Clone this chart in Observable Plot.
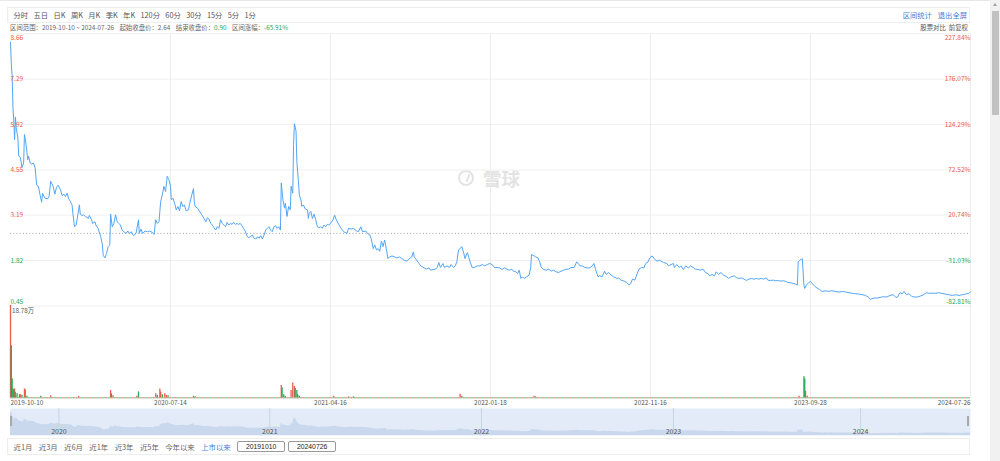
<!DOCTYPE html>
<html>
<head>
<meta charset="utf-8">
<script src="https://cdn.jsdelivr.net/npm/d3@7"></script>
<script src="https://cdn.jsdelivr.net/npm/@observablehq/plot@0.6"></script>
<style>
  html, body { margin: 0; padding: 0; }
  body { width: 1000px; height: 461px; overflow: hidden; background: #fff; position: relative;
         font-family: "Noto Sans CJK SC", "Noto Sans", sans-serif; }
  .abs { position: absolute; }
  #topline { left: 0; top: 0; width: 990px; height: 1px; background: #e8e8e8; }
  #toolbar { left: 7px; top: 7px; width: 963px; height: 16px; border: 1px solid #eeeeee; box-sizing: border-box;
             display: flex; align-items: center; font-size: 7.3px; color: #555; padding-left: 5.5px; gap: 5.4px; }
  #toolbar .right { margin-left: auto; display: flex; gap: 6px; padding-right: 2px; color: #3d7fd6; }
  #info { left: 10px; top: 23px; height: 9px; font-size: 6.4px; color: #666; display: flex; gap: 5.5px; align-items: center; white-space: pre; }
  #info .g { color: #1fa85a; }
  #inforight { right: 32px; top: 23px; height: 9px; font-size: 6.4px; color: #555; display: flex; gap: 3px; align-items: center; }
  #watermark { left: 458px; top: 165px; display: flex; align-items: center; gap: 9px; color: #e3e3e3; font-size: 18.5px; font-weight: 700; }
  #watermark .icon { width: 16px; height: 16px; border: 2.2px solid #e3e3e3; border-radius: 50%; box-sizing: border-box; position: relative; }
  #watermark .icon::after { content: ""; position: absolute; left: 3px; top: 1.5px; width: 4px; height: 8px; border-right: 2px solid #e3e3e3; transform: skewX(-20deg); }
  #bottombar { left: 7px; top: 438px; width: 963px; height: 17px; border: 1px solid #eeeeee; box-sizing: border-box;
               display: flex; align-items: center; font-size: 7.4px; color: #666; padding-left: 5.5px; gap: 6.4px; }
  #bottombar .blue { color: #3d7fd6; }
  #bottombar .box { border: 1px solid #999; border-radius: 2px; width: 48px; height: 11px; box-sizing: border-box;
                    display: flex; align-items: center; justify-content: center; color: #222; font-size: 6.8px; font-family: "Liberation Sans", Arial, sans-serif; }
  #scroll { left: 990px; top: 0; width: 10px; height: 461px; background: #f1f1f1; }
  #thumb { left: 992px; top: 11px; width: 7px; height: 104px; background: #c1c1c1; }
  #arrow { left: 993px; top: 3px; width: 0; height: 0; border-left: 2.5px solid transparent; border-right: 2.5px solid transparent; border-bottom: 3px solid #a3a3a3; }
  .handle { width: 2px; height: 10px; background: #a8a8a8; top: 416px; }
  svg { display: block; }
</style>
</head>
<body>
<div id="topline" class="abs"></div>
<div id="toolbar" class="abs">
  <span>分时</span><span>五日</span><span>日K</span><span>周K</span><span>月K</span><span>季K</span><span>年K</span>
  <span>120分</span><span>60分</span><span>30分</span><span>15分</span><span>5分</span><span>1分</span>
  <div class="right"><span>区间统计</span><span>退出全屏</span></div>
</div>
<div id="info" class="abs">
  <span>区间范围：2019-10-10 ~ 2024-07-26</span>
  <span>起始收盘价：2.64</span>
  <span>结束收盘价：<span class="g">0.90</span></span>
  <span>区间涨幅：<span class="g">-65.91%</span></span>
</div>
<div id="inforight" class="abs"><span>股票对比</span><span>前复权</span></div>

<div id="watermark" class="abs"><div class="icon"></div><span>雪球</span></div>

<div id="price" class="abs" style="left:0;top:30px"></div>
<div id="volume" class="abs" style="left:0;top:303px"></div>
<div id="nav" class="abs" style="left:0;top:408px"></div>
<div class="abs handle" style="left:10px"></div>
<div class="abs handle" style="left:967px"></div>

<div id="bottombar" class="abs">
  <span>近1月</span><span>近3月</span><span>近6月</span><span>近1年</span><span>近3年</span><span>近5年</span><span>今年以来</span>
  <span class="blue">上市以来</span>
  <div class="box">20191010</div><div class="box" style="margin-left:-3.4px">20240726</div>
</div>
<div id="scroll" class="abs"></div>
<div id="thumb" class="abs"></div>
<div id="arrow" class="abs"></div>

<script>
// ---------------- data ----------------
const basePrice = 2.64;
const priceTicks = [8.66, 7.29, 5.92, 4.55, 3.19, 1.82, 0.45];
const pctLabels = ["227.84%", "176.07%", "124.29%", "72.52%", "20.74%", "-31.03%", "-82.81%"];
const totalDays = 1170;
const xTickDays = [0, 195, 390, 585, 780, 975, 1170];
const xTickLabels = ["2019-10-10", "2020-07-14", "2021-04-16", "2022-01-18", "2022-11-16", "2023-09-28", "2024-07-26"];
const yearDays = [59, 316, 574, 808, 1036];
const yearLabels = ["2020", "2021", "2022", "2023", "2024"];
const volMax = 18.78;
const volMaxLabel = "18.78万";

// trading-day index, close price
const pricePoints = [
[0,8.40],[1,7.75],[2,7.39],[3,6.43],[4,6.03],[5,5.47],[6,6.15],[7,5.82],[9,5.52],[10,4.97],[12,4.93],[14,4.63],[16,4.76],[17,5.62],[19,5.32],[21,4.86],[22,4.97],[24,4.76],[26,4.73],[28,4.76],[30,4.61],[32,4.09],[34,4.06],[36,3.80],[38,3.58],[39,3.85],[42,3.70],[45,3.68],[47,3.75],[49,4.21],[52,4.06],[54,3.82],[56,4.02],[58,4.09],[61,3.95],[63,3.78],[65,3.82],[67,3.75],[69,3.85],[71,3.68],[73,3.60],[75,3.50],[76,3.25],[78,2.84],[80,2.89],[82,3.20],[84,3.50],[85,3.22],[87,3.18],[89,3.20],[91,3.15],[95,3.09],[96,3.18],[99,3.05],[100,2.94],[103,2.99],[104,2.89],[107,2.79],[108,2.69],[110,2.54],[112,2.29],[113,1.98],[115,1.90],[117,2.03],[119,2.24],[121,2.29],[122,3.22],[124,2.84],[126,2.94],[128,3.20],[130,2.99],[132,2.94],[134,2.89],[136,2.74],[138,2.69],[141,2.64],[143,2.71],[145,2.64],[147,2.69],[150,2.57],[153,2.64],[156,3.05],[157,2.64],[159,2.77],[161,2.64],[164,2.71],[167,2.69],[169,2.71],[173,2.67],[175,2.61],[177,3.05],[179,2.94],[181,2.99],[182,3.30],[183,3.60],[185,3.80],[187,4.06],[189,3.90],[191,4.36],[193,4.26],[195,4.06],
[196,3.65],[198,3.70],[200,3.55],[202,3.35],[204,3.45],[206,3.32],[208,3.60],[210,3.45],[212,3.50],[214,3.32],[217,3.35],[218,3.50],[221,3.80],[223,3.99],[224,3.60],[225,3.45],[228,3.40],[230,3.32],[233,3.20],[236,3.09],[238,2.99],[240,3.11],[242,3.07],[244,2.94],[246,2.89],[248,2.81],[250,2.74],[252,2.84],[254,2.79],[256,3.05],[258,2.94],[260,2.89],[262,2.84],[264,2.97],[266,2.89],[268,2.94],[270,2.91],[272,2.97],[274,2.91],[276,2.94],[278,2.91],[280,2.94],[282,2.87],[284,2.79],[286,2.71],[288,2.57],[290,2.51],[292,2.54],[295,2.59],[296,2.51],[299,2.47],[301,2.54],[303,2.49],[305,2.57],[307,2.47],[309,2.59],[311,2.74],[313,2.79],[315,2.84],[317,2.74],[319,2.69],[321,2.84],[323,2.87],[325,2.79],[327,2.84],[329,2.74],[330,4.16],[332,3.65],[334,3.40],[335,3.55],[337,3.15],[339,3.45],[341,3.35],[342,4.06],[344,3.85],[345,5.32],[346,5.95],[348,5.72],[349,4.81],[351,4.16],[352,3.80],[354,3.65],[355,3.45],[357,3.50],[359,3.38],[362,3.35],[363,3.09],[364,3.24],[366,3.30],[368,3.09],[370,3.22],[372,3.05],[374,2.84],[376,2.81],[378,2.84],[380,2.79],[382,2.89],[384,2.84],[386,2.91],[388,2.89],[390,2.94],
[393,3.05],[395,3.19],[397,3.05],[400,2.91],[403,2.79],[406,2.69],[410,2.64],[412,2.79],[415,2.77],[418,2.79],[422,2.71],[424,2.69],[427,2.84],[429,2.69],[433,2.71],[435,2.64],[438,2.59],[440,2.44],[442,2.18],[444,2.29],[446,2.14],[448,2.18],[450,2.10],[452,2.41],[454,2.24],[456,2.44],[458,2.18],[460,1.88],[462,1.93],[465,1.96],[468,1.93],[471,1.90],[474,1.93],[477,1.88],[480,1.83],[483,1.80],[486,1.88],[489,1.93],[491,2.08],[492,1.93],[495,1.83],[498,1.73],[500,1.66],[504,1.60],[507,1.56],[510,1.60],[512,1.53],[515,1.55],[518,1.56],[520,1.61],[522,1.76],[524,1.61],[527,1.73],[529,1.61],[532,1.66],[535,1.61],[537,1.70],[540,1.61],[542,1.66],[544,1.78],[546,2.14],[548,2.18],[550,2.24],[552,2.08],[554,1.88],[556,2.03],[557,2.06],[560,1.78],[563,1.60],[565,1.61],[569,1.66],[572,1.66],[575,1.70],[578,1.66],[581,1.70],[584,1.73],[587,1.70],[590,1.61],[593,1.61],[596,1.60],[599,1.55],[602,1.60],[605,1.56],[608,1.53],[611,1.56],[613,1.50],[616,1.48],[618,1.43],[620,1.53],[622,1.28],[624,1.33],[626,1.28],[629,1.33],[632,1.38],[634,1.61],[635,2.00],[637,1.98],[640,1.93],[643,1.90],[645,1.78],[647,1.61],[650,1.55],[653,1.53],[656,1.56],[659,1.50],[662,1.53],[665,1.48],[668,1.46],[671,1.50],[674,1.53],[677,1.56],[680,1.56],[683,1.61],[687,1.61],[690,1.78],[691,1.76],[694,1.66],[697,1.66],[700,1.61],[703,1.60],[706,1.60],[709,1.66],[711,1.73],[713,1.56],[716,1.33],[718,1.36],[721,1.33],[724,1.50],[726,1.40],[729,1.46],[732,1.38],[735,1.33],[739,1.28],[741,1.30],[744,1.23],[748,1.20],[751,1.16],[754,1.08],[756,1.13],[758,1.26],[761,1.23],[763,1.38],[766,1.56],[769,1.61],[772,1.60],[774,1.73],[777,1.78],[779,1.90],[782,1.96],[785,1.86],[788,1.80],[791,1.83],
[796,1.76],[800,1.73],[802,1.66],[805,1.70],[808,1.73],[809,1.61],[812,1.70],[815,1.61],[817,1.66],[820,1.55],[823,1.66],[826,1.60],[829,1.66],[832,1.61],[835,1.56],[838,1.55],[841,1.53],[844,1.56],[847,1.46],[850,1.43],[852,1.36],[855,1.40],[858,1.36],[860,1.48],[863,1.40],[866,1.46],[869,1.38],[873,1.33],[875,1.28],[878,1.33],[882,1.36],[885,1.30],[888,1.28],[891,1.30],[894,1.26],[897,1.22],[900,1.26],[903,1.28],[906,1.26],[909,1.28],[912,1.26],[915,1.28],[918,1.26],[921,1.30],[923,1.23],[926,1.22],[930,1.23],[932,1.21],[935,1.22],[938,1.20],[942,1.21],[945,1.19],[947,1.16],[951,1.15],[954,1.13],[957,1.11],[959,1.08],[960,1.78],[962,1.83],[964,1.86],[965,1.88],[967,1.08],[968,0.98],[970,1.08],[973,1.16],[975,1.19],[977,1.13],[980,1.05],[983,0.99],[986,0.95],[989,0.89],[993,0.91],[997,0.89],[1001,0.91],[1005,0.89],[1010,0.87],[1014,0.89],[1018,0.87],[1022,0.85],[1026,0.83],[1030,0.82],[1034,0.81],[1038,0.79],[1042,0.77],[1046,0.71],[1048,0.65],[1052,0.69],[1056,0.69],[1060,0.71],[1064,0.73],[1068,0.72],[1072,0.77],[1076,0.79],[1079,0.71],[1081,0.72],[1084,0.85],[1087,0.82],[1089,0.89],[1092,0.79],[1095,0.82],[1098,0.75],[1101,0.72],[1105,0.72],[1109,0.75],[1113,0.79],[1116,0.85],[1120,0.83],[1123,0.84],[1127,0.83],[1131,0.85],[1135,0.83],[1139,0.81],[1143,0.79],[1148,0.77],[1152,0.79],[1156,0.77],[1160,0.79],[1164,0.81],[1168,0.83],[1170,0.88]
];

// volume (万): [day, value, 1 = up (red) / 0 = down (green)]
const volumeBars = [
[0,18.78,1],[1,10.6,0],[2,3.9,0],[3,1.8,0],[4,1.6,0],[5,1.8,1],[6,1.1,1],[8,0.8,0],[11,0.6,0],[12,0.6,1],[14,0.5,0],[17,1.8,1],[18,1.6,1],[20,0.3,0],
[37,0.3,0],[49,0.4,1],[83,0.3,1],[122,1.5,1],[123,0.8,0],[125,0.4,1],[154,0.3,1],[156,1.2,0],[177,0.8,1],[179,0.5,0],[182,1.8,1],[183,1.2,1],[185,0.6,0],[188,0.8,1],[190,0.5,1],[192,0.4,0],
[223,0.3,0],[225,0.2,1],[330,2.5,1],[331,2.0,0],[333,0.6,0],[335,0.3,0],[342,1.5,1],[344,3.0,1],[346,2.3,1],[347,1.9,0],[349,1.5,0],[350,0.6,0],[352,0.3,0],[394,0.3,1],
[412,0.2,1],[418,0.2,0],[548,0.7,1],[550,0.3,0],[638,0.3,1],[640,0.2,1],[961,0.3,1],[967,4.3,0],[968,3.8,0],[969,1.3,1],[971,0.3,1]
];

// ---------------- drawing ----------------
const FONT = '"Noto Sans CJK SC", "Noto Sans", sans-serif';
const UP = "#ef5b4b", DOWN = "#24aa57", LINE = "#52a5f7", GRID = "#f0f0f0";
const W = 980;

const tickRows = priceTicks.map((v, i) => ({v, pct: pctLabels[i], i, c: v > basePrice ? UP : DOWN}));
const priceRows = pricePoints.map(([d, p]) => ({d, p}));

function tickLabelMarks(rows, dy) {
  return [
    Plot.text(rows, {x: 0, y: "v", text: d => d.v.toFixed(2), fill: "c", textAnchor: "start", dy, fontSize: 6.5, lineAnchor: "middle"}),
    Plot.text(rows, {x: totalDays, y: "v", text: "pct", fill: "c", textAnchor: "end", dy, fontSize: 6.5, lineAnchor: "middle"})
  ];
}

const priceChart = Plot.plot({
  width: W, height: 277,
  marginLeft: 10, marginRight: 10, marginTop: 3.2, marginBottom: 1.5,
  x: {domain: [0, totalDays], axis: null},
  y: {domain: [0.45, 8.66], axis: null},
  color: {type: "identity"},
  style: {fontFamily: FONT, background: "transparent", overflow: "visible"},
  marks: [
    Plot.ruleY(priceTicks, {stroke: GRID}),
    Plot.ruleX(xTickDays.slice(1), {stroke: "#ececec"}),
    Plot.ruleY([basePrice], {stroke: "#b0b0b0", strokeDasharray: "1.2,2"}),
    Plot.line(priceRows, {x: "d", y: "p", stroke: LINE, strokeWidth: 1}),
    ...tickLabelMarks(tickRows.filter(r => r.i === 0), 4),
    ...tickLabelMarks(tickRows.filter(r => r.i > 0 && r.i < 6), 0),
    ...tickLabelMarks(tickRows.filter(r => r.i === 6), -4.2)
  ]
});
document.getElementById("price").appendChild(priceChart);

const volRows = volumeBars.map(([d, v, up]) => ({d, v, up}));
const xRows = xTickDays.map((d, i) => ({d, label: xTickLabels[i], i}));
const xLabelOpts = {x: "d", text: "label", frameAnchor: "bottom", dy: 5.2, fontSize: 6.4, fill: "#555", lineAnchor: "middle"};

const volumeChart = Plot.plot({
  width: W, height: 110,
  marginLeft: 10, marginRight: 10, marginTop: 2, marginBottom: 15.7,
  x: {domain: [0, totalDays], axis: null},
  y: {domain: [0, volMax], axis: null},
  style: {fontFamily: FONT, background: "transparent", overflow: "visible"},
  marks: [
    Plot.ruleX(xTickDays.slice(1), {stroke: "#ececec"}),
    Plot.ruleY([0], {stroke: UP, strokeOpacity: 0.8, strokeDasharray: "1.6,1.6"}),
    Plot.ruleY([0], {stroke: DOWN, strokeOpacity: 0.8, strokeDasharray: "1.6,1.6", strokeDashoffset: 1.6}),
    Plot.ruleX(volRows.filter(r => r.up), {x: "d", y1: 0, y2: "v", stroke: UP, strokeWidth: 1.3}),
    Plot.ruleX(volRows.filter(r => !r.up), {x: "d", y1: 0, y2: "v", stroke: DOWN, strokeWidth: 1.3}),
    Plot.text([volMaxLabel], {frameAnchor: "top-left", dx: 1.5, dy: 5, text: d => d, fill: "#555", fontSize: 6.3, textAnchor: "start", lineAnchor: "middle"}),
    Plot.text(xRows.filter(r => r.i === 0), {...xLabelOpts, textAnchor: "start"}),
    Plot.text(xRows.filter(r => r.i > 0 && r.i < 6), {...xLabelOpts, textAnchor: "middle"}),
    Plot.text(xRows.filter(r => r.i === 6), {...xLabelOpts, textAnchor: "end"})
  ]
});
document.getElementById("volume").appendChild(volumeChart);

const yearRows = yearDays.map((d, i) => ({d, label: yearLabels[i]}));
const navChart = Plot.plot({
  width: W, height: 27,
  marginLeft: 10, marginRight: 10, marginTop: 0, marginBottom: 0,
  x: {domain: [0, totalDays], axis: null},
  y: {domain: [0, 9.2], axis: null},
  style: {fontFamily: FONT, background: "transparent", overflow: "visible"},
  marks: [
    Plot.frame({fill: "#e2ebf7", stroke: null}),
    Plot.areaY(priceRows, {x: "d", y: "p", fill: "#cad8ee"}),
    Plot.ruleX(yearDays, {stroke: "#c9d4e4"}),
    Plot.text(yearRows, {x: "d", text: "label", frameAnchor: "bottom", dy: -4, fill: "#555", fontSize: 7, lineAnchor: "middle"})
  ]
});
document.getElementById("nav").appendChild(navChart);
</script>
</body>
</html>
